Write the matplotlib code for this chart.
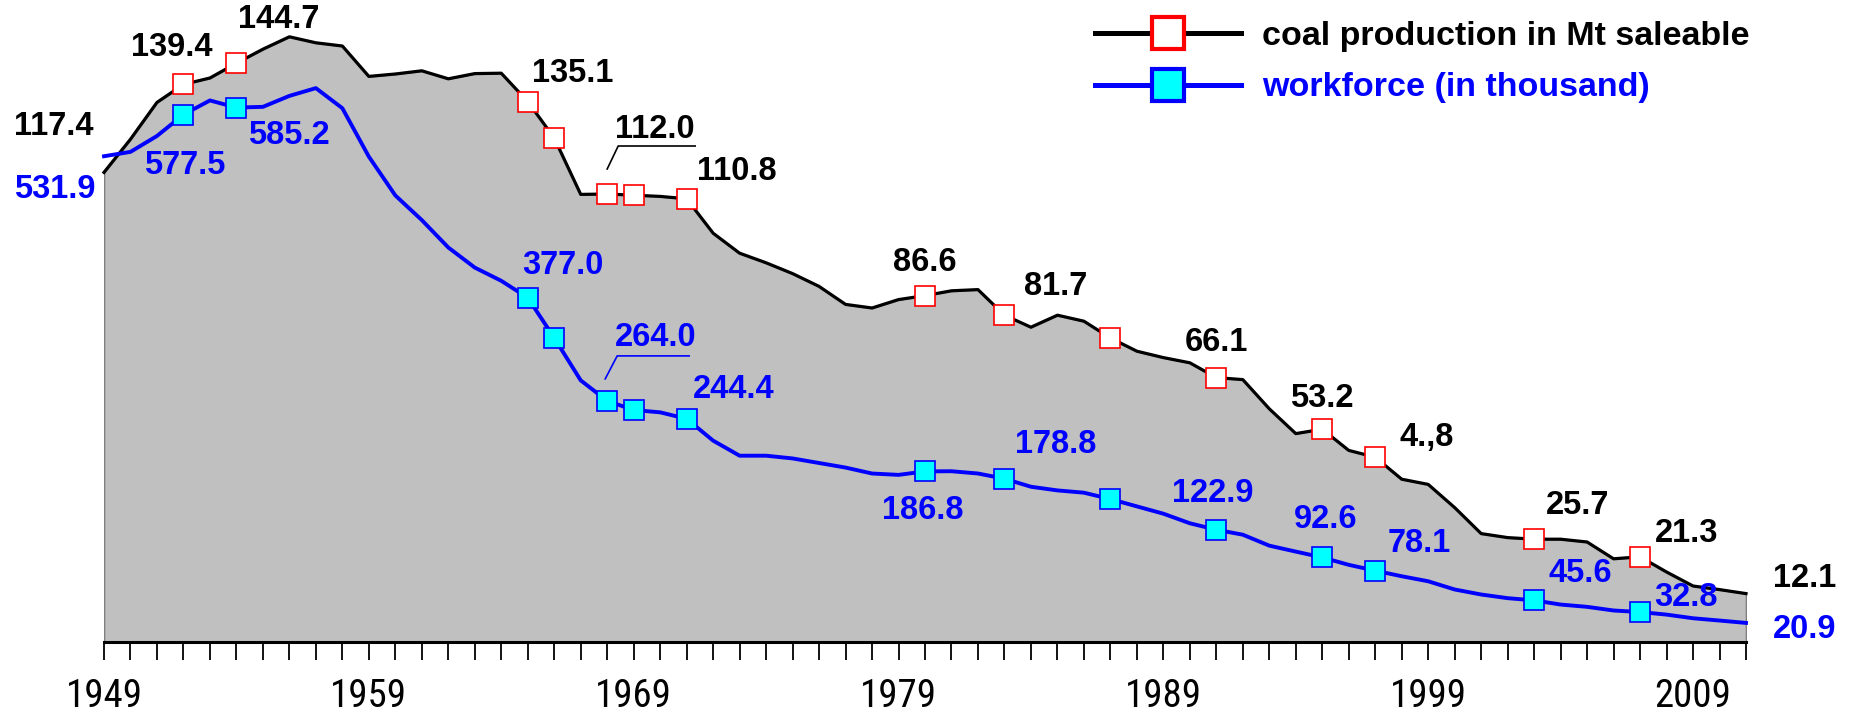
import matplotlib
matplotlib.use('Agg')
import matplotlib.pyplot as plt
import matplotlib.transforms as mtransforms
from matplotlib.lines import Line2D
from matplotlib import font_manager

# hard coal production (Mt saleable) and workforce (thousand), 1949-2011
years = list(range(1949, 2012))
coal = [117.4, 125.7, 134.9, 139.4, 141.0, 144.7, 148.2, 151.3, 149.8, 149.0,
        141.4, 142.0, 142.8, 140.8, 142.1, 142.2, 135.1, 126.0, 111.9, 112.0,
        111.7, 111.4, 110.8, 102.2, 97.2, 94.8, 92.1, 88.9, 84.4, 83.5,
        85.6, 86.6, 87.8, 88.1, 81.7, 78.7, 81.7, 80.2, 76.0, 72.7,
        71.1, 69.8, 66.1, 65.6, 58.3, 52.1, 53.2, 47.9, 46.2, 40.7,
        39.4, 33.6, 27.1, 26.1, 25.7, 25.7, 25.0, 20.8, 21.3, 17.5,
        14.0, 13.1, 12.1]
workforce = [531.9, 536.7, 554.1, 577.5, 593.0, 585.2, 586.0, 598.0, 606.5, 584.5,
             531.5, 489.0, 462.0, 432.0, 410.0, 395.5, 377.0, 333.0, 286.5, 264.0,
             254.0, 251.5, 244.4, 220.5, 204.0, 204.0, 201.0, 196.0, 191.0, 184.5,
             183.0, 186.8, 187.0, 184.5, 178.8, 170.0, 166.0, 163.5, 156.5, 148.5,
             140.5, 130.0, 122.9, 117.5, 105.5, 99.0, 92.6, 84.5, 78.1, 72.0,
             66.5, 57.5, 52.0, 48.0, 45.6, 41.0, 38.5, 34.5, 32.8, 30.0,
             26.0, 23.5, 20.9]
marker_years = [1952, 1954, 1965, 1966, 1968, 1969, 1971, 1980, 1983, 1987,
                1991, 1995, 1997, 2003, 2007]

coal_label_years = [1949, 1952, 1954, 1965, 1968, 1971, 1980, 1983, 1991, 1995,
                    1997, 2003, 2007, 2011]
coal_label_texts = ['117.4', '139.4', '144.7', '135.1', '112.0', '110.8', '86.6',
                    '81.7', '66.1', '53.2', '4.,8', '25.7', '21.3', '12.1']
work_label_years = [1949, 1952, 1954, 1965, 1968, 1971, 1980, 1983, 1991, 1995,
                    1997, 2003, 2007, 2011]
work_label_texts = ['531.9', '577.5', '585.2', '377.0', '264.0', '244.4', '186.8',
                    '178.8', '122.9', '92.6', '78.1', '45.6', '32.8', '20.9']

# label offsets in pixels (right, up)
coal_offsets = [(-50, 46), (-12, 37), (42, 44), (45, 28), (48, 65), (50, 27),
                (0, 33), (51, 29), (0, 35), (0, 31), (51, 20), (43, 34),
                (46, 23), (59, 15)]
work_offsets = [(-49, -33), (1, -51), (52, -28), (35, 32), (48, 63), (47, 29),
                (-2, -39), (51, 34), (-4, 36), (3, 38), (44, 27), (46, 27),
                (46, 15), (59, -7)]

names = {f.name for f in font_manager.fontManager.ttflist}
narrow = 'Roboto Condensed' if 'Roboto Condensed' in names else 'Liberation Sans'
plt.rcParams['font.family'] = ['Liberation Sans', 'DejaVu Sans']

fig = plt.figure(figsize=(18.52, 7.16), dpi=100)
ax = fig.add_axes([104 / 1852, 74 / 716, 1642 / 1852, 642 / 716])
ax2 = ax.twinx()

marks = [years.index(y) for y in marker_years]

ax.fill_between(years, coal, 0, facecolor='#C0C0C0', edgecolor='#7F7F7F', linewidth=1.2, zorder=1)
ax.plot(years, coal, color='black', lw=2.3, marker='s', markevery=marks, ms=14,
        mfc='white', mec='#FF0000', mew=1.2, zorder=3, clip_on=False)
ax2.plot(years, workforce, color='#0000FF', lw=2.8, marker='s', markevery=marks, ms=14,
         mfc='#00FFFF', mec='#0000FF', mew=1.2, zorder=3, clip_on=False)

ax.set_xlim(1949, 2011)
ax.set_ylim(0, 160.5)
ax2.set_ylim(0, 703)

for a in (ax, ax2):
    for s in ('left', 'right', 'top'):
        a.spines[s].set_visible(False)
    a.set_yticks([])
ax2.spines['bottom'].set_visible(False)
ax.spines['bottom'].set_linewidth(2.2)
ax.spines['bottom'].set_zorder(5)

ax.set_xticks(years)
ax.set_xticklabels([str(y) if (y - 1949) % 10 == 0 else '' for y in years],
                   fontsize=28, family=[narrow, 'DejaVu Sans'])
ax.tick_params(axis='x', direction='out', length=13, width=1.3, pad=13)

# value labels
for y, t, off in zip(coal_label_years, coal_label_texts, coal_offsets):
    ax.annotate(t, (y, coal[years.index(y)]), xytext=off, textcoords='offset pixels',
                ha='center', va='center', fontsize=23.5, fontweight='bold',
                color='black', annotation_clip=False, zorder=6)
for y, t, off in zip(work_label_years, work_label_texts, work_offsets):
    ax2.annotate(t, (y, workforce[years.index(y)]), xytext=off, textcoords='offset pixels',
                 ha='center', va='center', fontsize=23.5, fontweight='bold',
                 color='#0000FF', annotation_clip=False, zorder=6)

# leader lines with underline
def leader(a, x, y, pts, color):
    tr = mtransforms.Affine2D() + mtransforms.ScaledTranslation(x, y, a.transData)
    a.add_artist(Line2D([p[0] for p in pts], [p[1] for p in pts], transform=tr,
                        color=color, lw=1.2, clip_on=False, zorder=6))

leader(ax, 1968, coal[years.index(1968)], [(0, 25), (11, 48), (88, 48)], 'black')
leader(ax2, 1968, workforce[years.index(1968)], [(-2, 22), (10, 45), (82, 45)], '#0000FF')

# legend
handles = [Line2D([], [], color='black', lw=3.6, marker='s', ms=23, mfc='white',
                  mec='#FF0000', mew=3),
           Line2D([], [], color='#0000FF', lw=3.6, marker='s', ms=23, mfc='#00FFFF',
                  mec='#0000FF', mew=3)]
leg = fig.legend(handles, ['coal production in Mt saleable', 'workforce (in thousand)'],
                 loc='upper left', bbox_to_anchor=(1095 / 1852, 1 - 21 / 716),
                 frameon=False, borderpad=0, borderaxespad=0, handlelength=4.3,
                 handletextpad=0.62, labelspacing=0.6,
                 prop={'size': 24.5, 'weight': 'bold'})
for txt, c in zip(leg.get_texts(), ['black', '#0000FF']):
    txt.set_color(c)

fig.savefig('out.png', dpi=100)
